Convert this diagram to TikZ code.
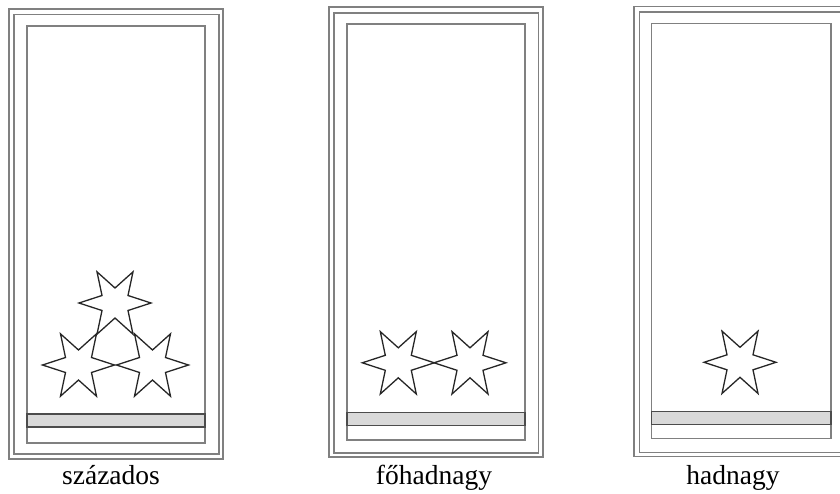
\documentclass[tikz,border=0pt]{standalone}
\usepackage{fontspec}
\setmainfont{Liberation Serif}
\usepackage{tikz}
\usetikzlibrary{shapes.geometric,positioning,fit}

\begin{document}
\begin{tikzpicture}[x=1pt,y=-1pt]
					\tikzset{frame/.style={fit={#1}, inner sep=0pt, draw=black!50, line width=1.3pt}}
					\tikzset{bar/.style={fit={#1}, inner sep=0pt, draw=black!70, fill=black!15, line width=1.3pt}}
					\tikzset{rankstar/.style={star, star points=6, star point ratio=2.4, minimum size=72pt, inner sep=0pt, rotate=30, draw=black!85, line width=1.3pt}}
					\tikzset{rank/.style={anchor=base, font=\fontsize{27.5}{30}\selectfont}}

					\useasboundingbox (0,0) rectangle (840,493);
					\clip (0,0) rectangle (840,493);

					% szazados
					\node[frame={(9,9) (223,459)}] (outerA) {};
					\node[frame={(14,14.5) (219,454)}] (midA) {};
					\node[frame={(27,26) (205,443)}] (innerA) {};
					\node[bar={(27,414) (205,427)}] (barA) {};
					\node[rankstar] (starA1) at (78.5,365) {};
					\node[rankstar] (starA2) at (152.5,365) {};
					\node[rankstar] (starA3) at (115,303) {};
					\node[rank] (labelA) at (111,484) {százados};

					% fohadnagy
					\node[frame={(329,7) (543,457)}] (outerB) {};
					\node[frame={(334,13) (538.5,453)}] (midB) {};
					\node[frame={(347,24) (525,440)}] (innerB) {};
					\node[bar={(347,412.7) (525,425.3)}] (barB) {};
					\node[rankstar] (starB1) at (398.3,362.8) {};
					\node[rankstar] (starB2) at (470,362.8) {};
					\node[rank] (labelB) at (434,484) {főhadnagy};

					% hadnagy
					\node[frame={(634,6.7) (848,456.7)}] (outerC) {};
					\node[frame={(639.5,12) (844,452.3)}] (midC) {};
					\node[frame={(651.5,23.3) (831,438.3)}] (innerC) {};
					\node[bar={(651.5,411.7) (831,424.3)}] (barC) {};
					\node[rankstar] (starC) at (740,362.3) {};
					\node[rank] (labelC) at (733,484) {hadnagy};

				\end{tikzpicture}
\end{document}
